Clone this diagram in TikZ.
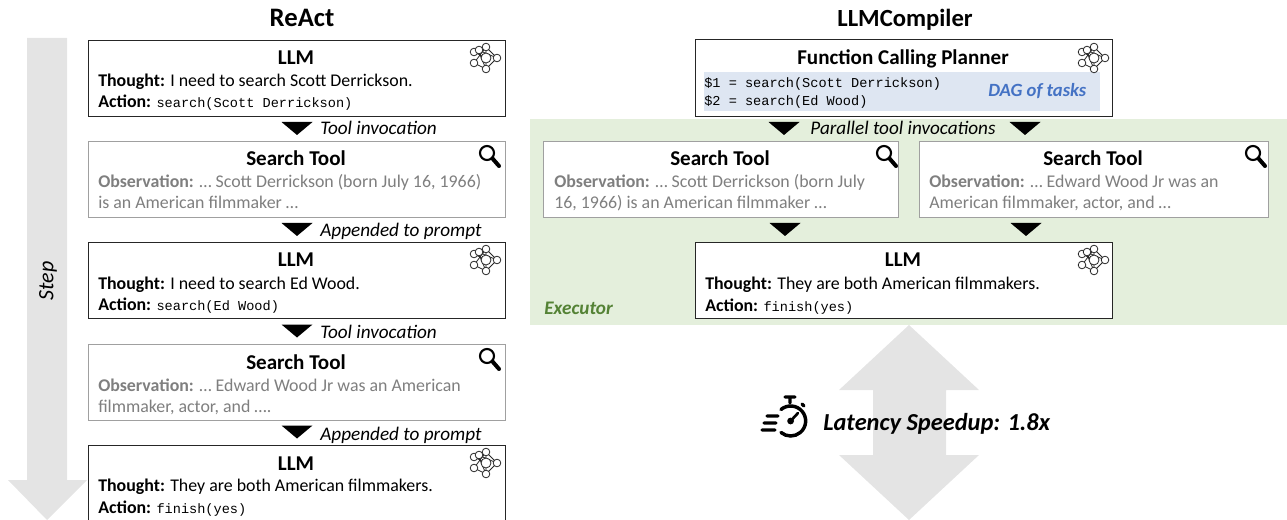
\documentclass[tikz,border=0pt]{standalone}
\usepackage{fontspec}
\setmainfont{Carlito}
\setmonofont{Liberation Mono}
\usetikzlibrary{positioning}

\definecolor{stepgray}{HTML}{E4E4E4}
\definecolor{execgreen}{HTML}{E4EFDC}
\definecolor{execlabel}{HTML}{548235}
\definecolor{dagblue}{HTML}{DEE6F2}
\definecolor{daglabel}{HTML}{4472C4}
\definecolor{obsgray}{HTML}{7F7F7F}
\definecolor{toolline}{HTML}{A0A0A0}

\tikzset{
  llmbox/.style={draw=black!85, line width=1.1pt, fill=white, inner sep=0pt, anchor=north west,
    minimum width=312.75pt, minimum height=57pt},
  toolbox/.style={llmbox, draw=toolline},
  headtext/.style={font=\fontsize{18.5}{22}\selectfont\bfseries, anchor=base, inner sep=0pt},
  titletext/.style={font=\fontsize{15.8}{18}\selectfont\bfseries, anchor=base, inner sep=0pt},
  bodytext/.style={font=\fontsize{13.4}{16}\selectfont, anchor=base west, inner sep=0pt},
  obstext/.style={bodytext, text=obsgray},
  edgetext/.style={font=\fontsize{14.4}{17}\selectfont\itshape, anchor=base west, inner sep=0pt},
  netico/.pic={
    \draw[black!85, line width=0.6pt]
      (0,-11) -- (0,0) -- (0,11) (-12,-6) -- (0,0) (-12,5) -- (0,11) (-8,-8) -- (11,0) -- (0,11)
      (0,-11) -- (11,0) (-8,-8) -- (0,11) (-12,5) -- (0,-11);
    \foreach \cx/\cy/\cr in {0/-11/3.8,-12/-6/3.8,-12/5/3.8,11/0/3.8,0/11/3.8,-7/-8/3.8,0/0/5}
      \draw[black!85, line width=0.6pt, fill=white] (\cx,\cy) circle (\cr);
  },
  lensico/.pic={
    \draw[black, line width=1.6pt] (0,0) circle (7);
    \draw[black, line width=3pt, line cap=round] (5.5,5.5) -- (12,13);
  },
  downtri/.pic={
    \fill[black] (-15.5,-6.5) -- (15.5,-6.5) -- (0,6.5) -- cycle;
  },
}

\begin{document}
\begin{tikzpicture}[x=0.75pt,y=-0.75pt]
\useasboundingbox (0,0) rectangle (1287,520);

%% Background shapes
\fill[execgreen] (530,119) rectangle (1287,325);
\fill[stepgray] (27,38) -- (67,38) -- (67,480) -- (87,480) -- (47,520) -- (8,480) -- (27,480) -- cycle;
\fill[stepgray] (909,325) -- (979,390) -- (946,390) -- (946,455) -- (979,455) -- (909,520)
  -- (839,455) -- (873,455) -- (873,390) -- (839,390) -- cycle;
\node[rotate=90, font=\fontsize{16.5}{19}\selectfont\itshape, inner sep=0pt] (steplabel) at (48,281) {Step};

%% ReAct
\node[headtext, font=\fontsize{20}{24}\selectfont\bfseries] (reacthead) at (302,27) {ReAct};

\node[llmbox] (llmA) at (88,40) {};
\node[titletext] (llmAtitle) at (296,65) {LLM};
\node[bodytext] (llmAthought) at (98,87) {\textbf{Thought:} I need to search Scott Derrickson.};
\node[bodytext] (llmAaction) at (98,108) {\textbf{Action:} {\fontsize{10.2}{12}\ttfamily search(Scott Derrickson)}};
\pic at (486,58) {netico};

\pic at (297,128.5) {downtri};
\node[edgetext] (edgeA) at (320,135) {Tool invocation};

\node[toolbox] (toolA) at (88,141) {};
\node[titletext] (toolAtitle) at (296,166) {Search Tool};
\node[obstext] (toolAobs) at (98,188) {\textbf{Observation:} … Scott Derrickson (born July 16, 1966)};
\node[obstext] (toolAmore) at (98,209) {is an American filmmaker …};
\pic at (487,153) {lensico};

\pic at (297,229.5) {downtri};
\node[edgetext] (edgeB) at (320,237) {Appended to prompt};

\node[llmbox] (llmB) at (88,242) {};
\node[titletext] (llmBtitle) at (296,267) {LLM};
\node[bodytext] (llmBthought) at (98,289) {\textbf{Thought:} I need to search Ed Wood.};
\node[bodytext] (llmBaction) at (98,310) {\textbf{Action:} {\fontsize{10.2}{12}\ttfamily search(Ed Wood)}};
\pic at (486,260) {netico};

\pic at (297,331) {downtri};
\node[edgetext] (edgeC) at (320,338) {Tool invocation};

\node[toolbox] (toolB) at (88,344) {};
\node[titletext] (toolBtitle) at (296,369) {Search Tool};
\node[obstext] (toolBobs) at (98,391) {\textbf{Observation:} … Edward Wood Jr was an American};
\node[obstext] (toolBmore) at (98,412) {filmmaker, actor, and ….};
\pic at (487,356) {lensico};

\pic at (297,432) {downtri};
\node[edgetext] (edgeD) at (320,440) {Appended to prompt};

\node[llmbox] (llmC) at (88,445) {};
\node[titletext] (llmCtitle) at (296,470) {LLM};
\node[bodytext] (llmCthought) at (98,491) {\textbf{Thought:} They are both American filmmakers.};
\node[bodytext] (llmCaction) at (98,513) {\textbf{Action:} {\fontsize{10.2}{12}\ttfamily finish(yes)}};
\pic at (486,463) {netico};

%% LLMCompiler
\node[headtext] (compilerhead) at (905,27) {LLMCompiler};

\node[llmbox, minimum height=57.5pt] (planner) at (695,39) {};
\fill[dagblue] (704,72) rectangle (1100,111);
\node[titletext] (plannertitle) at (903,65) {Function Calling Planner};
\node[bodytext, font=\fontsize{10.2}{12}\ttfamily] (plantaskA) at (704,88) {\$1 = search(Scott Derrickson)};
\node[bodytext, font=\fontsize{10.2}{12}\ttfamily] (plantaskB) at (704,106) {\$2 = search(Ed Wood)};
\node[bodytext, font=\fontsize{14}{17}\selectfont\bfseries\itshape, text=daglabel] (daglabel) at (988,97) {DAG of tasks};
\pic at (1094,58) {netico};

\pic at (784,128.5) {downtri};
\pic at (1025,128.5) {downtri};
\node[edgetext, anchor=base] (edgepar) at (903,135) {Parallel tool invocations};

\node[toolbox, minimum width=266pt] (toolL) at (543,141) {};
\node[titletext] (toolLtitle) at (720,166) {Search Tool};
\node[obstext] (toolLobs) at (554,188) {\textbf{Observation:} … Scott Derrickson (born July};
\node[obstext] (toolLmore) at (554,209) {16, 1966) is an American filmmaker …};
\pic at (884,153) {lensico};

\node[toolbox, minimum width=262pt] (toolR) at (918.5,141) {};
\node[titletext] (toolRtitle) at (1093,166) {Search Tool};
\node[obstext] (toolRobs) at (929,188) {\textbf{Observation:} … Edward Wood Jr was an};
\node[obstext] (toolRmore) at (929,209) {American filmmaker, actor, and …};
\pic at (1253,153) {lensico};

\pic at (785,229.5) {downtri};
\pic at (1026,229.5) {downtri};

\node[llmbox] (llmD) at (695,242) {};
\node[titletext] (llmDtitle) at (903,267) {LLM};
\node[bodytext] (llmDthought) at (705,289) {\textbf{Thought:} They are both American filmmakers.};
\node[bodytext] (llmDaction) at (705,311) {\textbf{Action:} {\fontsize{10.2}{12}\ttfamily finish(yes)}};
\pic at (1094,260) {netico};

\node[edgetext, font=\fontsize{14.4}{17}\selectfont\bfseries\itshape, text=execlabel] (execlabel) at (544,314) {Executor};

%% Latency note
\node[bodytext, font=\fontsize{18.3}{22}\selectfont\bfseries\itshape] (speedup) at (823,430) {Latency Speedup: 1.8x};
\draw[black, line width=2.6pt, line cap=round] (781,409.5) arc[start angle=-130, end angle=130, radius=15];
\draw[black, line width=2.4pt, line cap=round] (785,397) -- (795,397) (790,397) -- (790,403)
  (802,404) -- (804,406)
  (767,416) -- (778,416) (764,423) -- (776,423) (762,430) -- (775,430);
\fill[black] (790.6,421) circle (3.4);
\draw[black, line width=2pt, line cap=round] (790.6,421) -- (798,413);
\end{tikzpicture}
\end{document}
